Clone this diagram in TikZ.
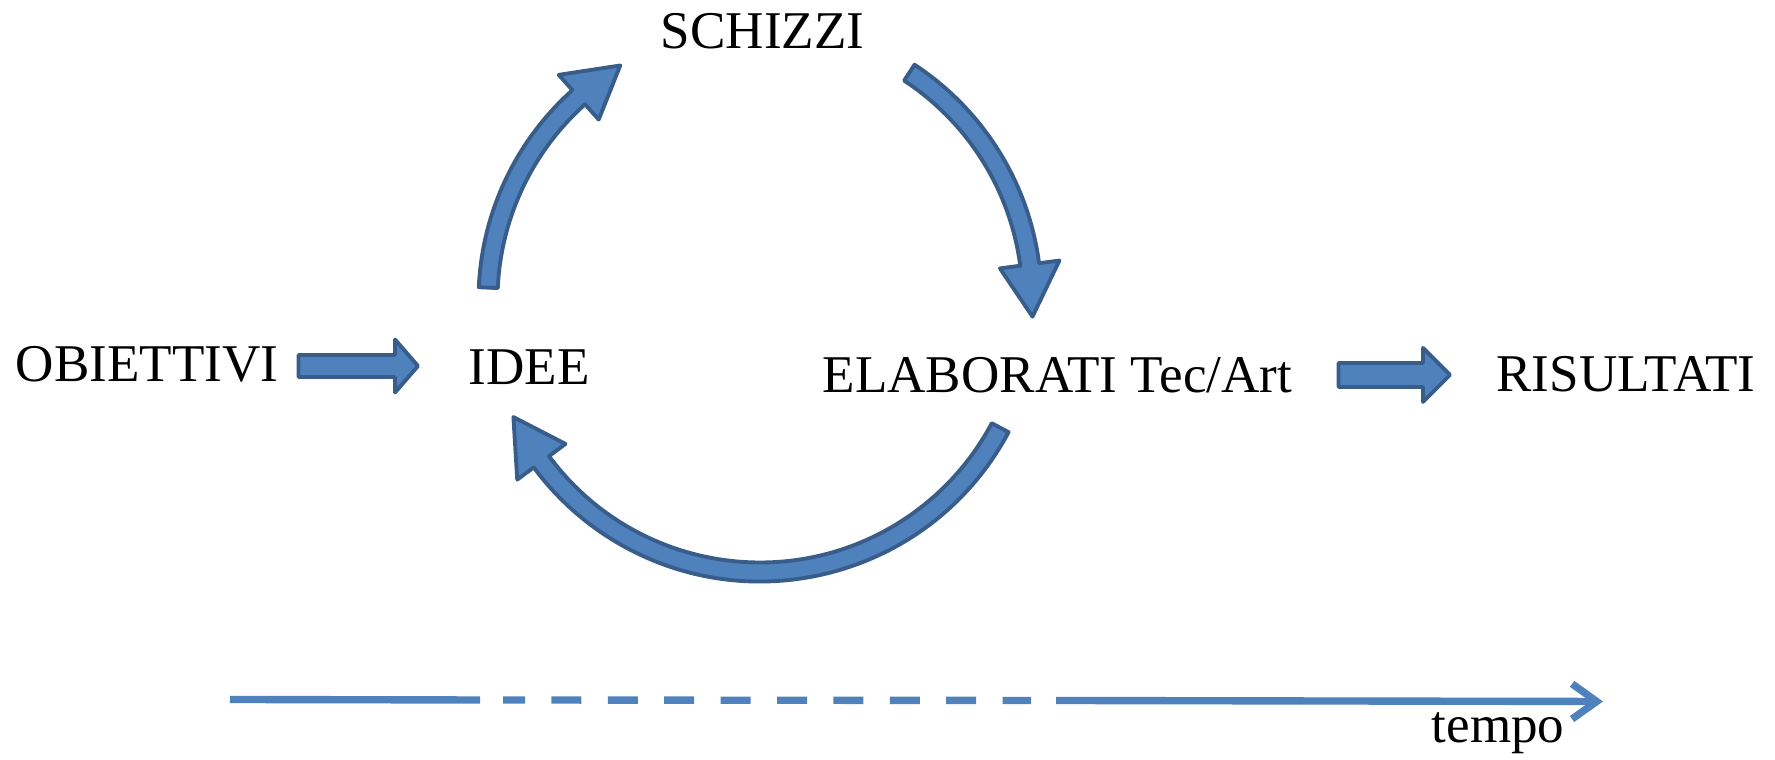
\documentclass[tikz,border=0pt]{standalone}
\usepackage{fontspec}
\setmainfont{Liberation Serif}
\usepackage{tikz}
\usetikzlibrary{
    positioning,
    arrows.meta,
    calc
}
\definecolor{arrowFill}{RGB}{79, 129, 189}
\definecolor{arrowEdge}{RGB}{56, 93, 138}

\begin{document}
\begin{tikzpicture}[
    lbl/.style={inner sep=0pt, anchor=base, font=\fontsize{15.1}{17}\selectfont},
    blockarrow/.style={fill=arrowFill, draw=arrowEdge, line width=1.1pt, line join=round},
    timeline/.style={draw=arrowFill, line width=2.1pt}
]
    \useasboundingbox (0,0) rectangle (17.75,7.6);

    % testi
    \node[lbl] (schizzi) at (7.625,7.11) {SCHIZZI};
    \node[lbl] (obiettivi) at (1.47,3.78) {OBIETTIVI};
    \node[lbl] (idee) at (5.29,3.75) {IDEE};
    \node[lbl] (elaborati) at (10.575,3.67) {ELABORATI Tec/Art};
    \node[lbl] (risultati) at (16.26,3.68) {RISULTATI};
    \node[lbl] (tempo) at (14.98,0.17) {tempo};

    % frecce dritte
    \coordinate (A) at (2.985,3.94);
    \coordinate (B) at (13.385,3.85);
    \draw[blockarrow] ($(A)+(0,0.11)$) -- ++(0.965,0) -- ++(0,0.155)
        -- ++(0.23,-0.265) -- ++(-0.23,-0.265) -- ++(0,0.155) -- ++(-0.965,0) -- cycle;
    \draw[blockarrow] ($(B)+(0,0.12)$) -- ++(0.845,0) -- ++(0,0.15)
        -- ++(0.27,-0.27) -- ++(-0.27,-0.27) -- ++(0,0.15) -- ++(-0.845,0) -- cycle;

    % frecce del ciclo
    \coordinate (O) at (7.60,4.60);
    \draw[blockarrow] ($(O)+(177.4:2.815)$) arc[start angle=177.4, end angle=131.8, radius=2.815]
        -- ($(O)+(131.8:3.02)$) -- ($(O)+(120.8:2.73)$) -- ($(O)+(131.8:2.42)$)
        -- ($(O)+(131.8:2.625)$) arc[start angle=131.8, end angle=177.4, radius=2.625] -- cycle;
    \draw[blockarrow] ($(O)+(56.7:2.815)$) arc[start angle=56.7, end angle=7.5, radius=2.815]
        -- ($(O)+(7.5:3.02)$) -- ($(O)+(-3.5:2.73)$) -- ($(O)+(7.5:2.42)$)
        -- ($(O)+(7.5:2.625)$) arc[start angle=7.5, end angle=56.7, radius=2.625] -- cycle;
    \draw[blockarrow] ($(O)+(-28:2.815)$) arc[start angle=-28, end angle=-143.5, radius=2.815]
        -- ($(O)+(-143.5:3.02)$) -- ($(O)+(-154.6:2.73)$) -- ($(O)+(-143.5:2.42)$)
        -- ($(O)+(-143.5:2.625)$) arc[start angle=-143.5, end angle=-28, radius=2.625] -- cycle;

    % asse del tempo
    \coordinate (t0) at (2.30,0.605);
    \coordinate (t1) at (4.80,0.60);
    \coordinate (t2) at (5.03,0.60);
    \coordinate (t3) at (10.31,0.595);
    \coordinate (t4) at (10.56,0.595);
    \coordinate (t5) at (16.03,0.585);
    \draw[timeline] (t0) -- (t1);
    \draw[timeline, dash pattern=on 0.3cm off 0.264cm, dash phase=0.08cm] (t2) -- (t3);
    \draw[timeline, -{Straight Barb[length=7pt, width=10pt]}] (t4) -- (t5);
\end{tikzpicture}
\end{document}
